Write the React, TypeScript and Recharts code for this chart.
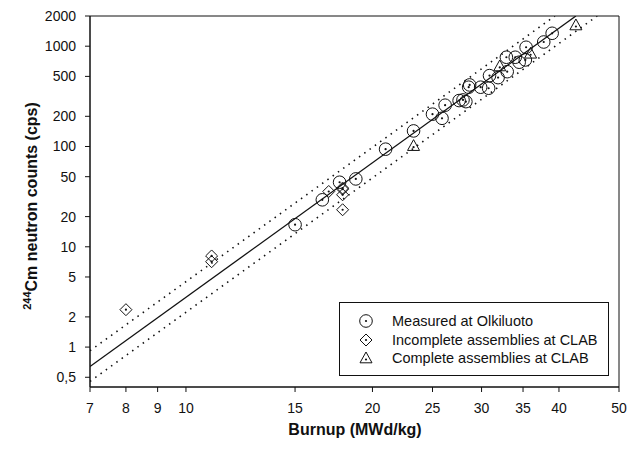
import { ScatterChart, Scatter, XAxis, YAxis, ReferenceArea } from 'recharts'

const FONT = '"Liberation Sans", Arial, sans-serif'
const INK = '#111'

// Measured at Olkiluoto
const olkiBurnup = [15.0, 16.6, 17.7, 18.8, 21.0, 23.3, 25.0, 25.9, 26.2, 27.6, 28.0, 28.3, 28.6, 28.7, 29.9, 30.8, 30.9, 31.9, 32.9, 33.0, 34.0, 34.5, 35.3, 35.4, 37.8, 39.0]
const olkiCounts = [16.6, 29.4, 44, 47.5, 94, 143, 210, 191, 258, 287, 291, 280, 390, 411, 390, 381, 509, 486, 776, 557, 776, 692, 729, 976, 1101, 1345]

// Incomplete assemblies at CLAB
const incBurnup = [8.0, 11.0, 11.0, 17.0, 17.9, 17.9, 17.9, 17.9]
const incCounts = [2.36, 8.1, 7.1, 35.6, 37.6, 38.5, 33, 23.4]

// Complete assemblies at CLAB
const compBurnup = [23.3, 32.1, 36.0, 42.6]
const compCounts = [102, 635, 850, 1627]

// fit line and its band (end points)
const fitBurnup = [7, 42.6]
const fitCounts = [0.64, 2000]
const upperBurnup = [7, 39.4]
const upperCounts = [0.92, 2000]
const lowerBurnup = [7, 46.1]
const lowerCounts = [0.455, 2000]

const xTicks = [7, 8, 9, 10, 15, 20, 25, 30, 35, 40, 50]
const yTicks = [0.5, 1, 2, 5, 10, 20, 50, 100, 200, 500, 1000, 2000]

const zip = (xs: number[], ys: number[]) => xs.map((x, i) => ({ x, y: ys[i] }))

const olki = zip(olkiBurnup, olkiCounts)
const inc = zip(incBurnup, incCounts)
const comp = zip(compBurnup, compCounts)
const fit = zip(fitBurnup, fitCounts)
const upper = zip(upperBurnup, upperCounts)
const lower = zip(lowerBurnup, lowerCounts)

const CircleMark = (p: any) => (
  <g>
    <circle cx={p.cx} cy={p.cy} r={6.3} fill="none" stroke={INK} strokeWidth={1} />
    <circle cx={p.cx} cy={p.cy} r={1.1} fill={INK} />
  </g>
)

const DiamondMark = (p: any) => {
  const s = 6
  return (
    <g>
      <path d={`M${p.cx},${p.cy - s} L${p.cx + s},${p.cy} L${p.cx},${p.cy + s} L${p.cx - s},${p.cy} Z`} fill="none" stroke={INK} strokeWidth={1} />
      <circle cx={p.cx} cy={p.cy} r={1.1} fill={INK} />
    </g>
  )
}

const TriangleMark = (p: any) => {
  const s = 6
  return (
    <g>
      <path d={`M${p.cx},${p.cy - s} L${p.cx + s},${p.cy + s * 0.8} L${p.cx - s},${p.cy + s * 0.8} Z`} fill="none" stroke={INK} strokeWidth={1} />
      <circle cx={p.cx} cy={p.cy + 1.5} r={1.1} fill={INK} />
    </g>
  )
}

const NoMark = () => <g />

const legendRows = [
  { label: 'Measured at Olkiluoto', Mark: CircleMark },
  { label: 'Incomplete assemblies at CLAB', Mark: DiamondMark },
  { label: 'Complete assemblies at CLAB', Mark: TriangleMark },
]

function LegendBox() {
  return (
    <div style={{ position: 'absolute', left: 339, top: 302, width: 270, height: 74, border: `1px solid ${INK}`, background: '#fff', paddingTop: 9, boxSizing: 'border-box' }}>
      {legendRows.map(({ label, Mark }) => (
        <div key={label} style={{ display: 'flex', alignItems: 'center', height: 18.5, fontFamily: FONT, fontSize: 14.5, color: INK }}>
          <svg width={52} height={18} style={{ flex: 'none' }}>
            <Mark cx={26} cy={9} />
          </svg>
          <span style={{ whiteSpace: 'nowrap' }}>{label}</span>
        </div>
      ))}
    </div>
  )
}

const tickStyle = { fontFamily: FONT, fontSize: 14, fill: INK }

export default function App() {
  return (
    <div style={{ position: 'absolute', left: 0, top: 0, width: 634, height: 450, background: '#fff' }}>
      <ScatterChart width={634} height={450} margin={{ top: 16, right: 15, left: 0, bottom: 0 }}>
        <XAxis
          type="number"
          dataKey="x"
          scale="log"
          domain={[7, 50]}
          allowDataOverflow
          ticks={xTicks}
          interval={0}
          height={63}
          tickSize={5}
          tickMargin={11}
          tick={tickStyle}
          stroke={INK}
        />
        <YAxis
          type="number"
          dataKey="y"
          scale="log"
          domain={[0.4, 2000]}
          allowDataOverflow
          ticks={yTicks}
          interval={0}
          width={90}
          tickSize={5}
          tickMargin={9}
          tick={tickStyle}
          stroke={INK}
          tickFormatter={(v: number) => String(v).replace('.', ',')}
        />
        <ReferenceArea x1={7} x2={50} y1={0.4} y2={2000} fill="none" stroke={INK} strokeWidth={1} ifOverflow="visible" />
        <Scatter data={upper} line={{ stroke: INK, strokeWidth: 1.6, strokeDasharray: '1.5 5' }} shape={NoMark} legendType="none" isAnimationActive={false} />
        <Scatter data={lower} line={{ stroke: INK, strokeWidth: 1.6, strokeDasharray: '1.5 5' }} shape={NoMark} legendType="none" isAnimationActive={false} />
        <Scatter data={fit} line={{ stroke: INK, strokeWidth: 1.3 }} shape={NoMark} legendType="none" isAnimationActive={false} />
        <Scatter name="Measured at Olkiluoto" data={olki} shape={CircleMark} isAnimationActive={false} />
        <Scatter name="Incomplete assemblies at CLAB" data={inc} shape={DiamondMark} isAnimationActive={false} />
        <Scatter name="Complete assemblies at CLAB" data={comp} shape={TriangleMark} isAnimationActive={false} />
      </ScatterChart>
      <LegendBox />
      <div style={{ position: 'absolute', left: 355, top: 430, transform: 'translate(-50%, -50%)', fontFamily: FONT, fontWeight: 'bold', fontSize: 16, color: INK, whiteSpace: 'nowrap' }}>
        Burnup (MWd/kg)
      </div>
      <div style={{ position: 'absolute', left: 31, top: 206, transform: 'translate(-50%, -50%) rotate(-90deg)', fontFamily: FONT, fontWeight: 'bold', fontSize: 16, color: INK, whiteSpace: 'nowrap' }}>
        <sup style={{ fontSize: 11 }}>244</sup>Cm neutron counts (cps)
      </div>
    </div>
  )
}
